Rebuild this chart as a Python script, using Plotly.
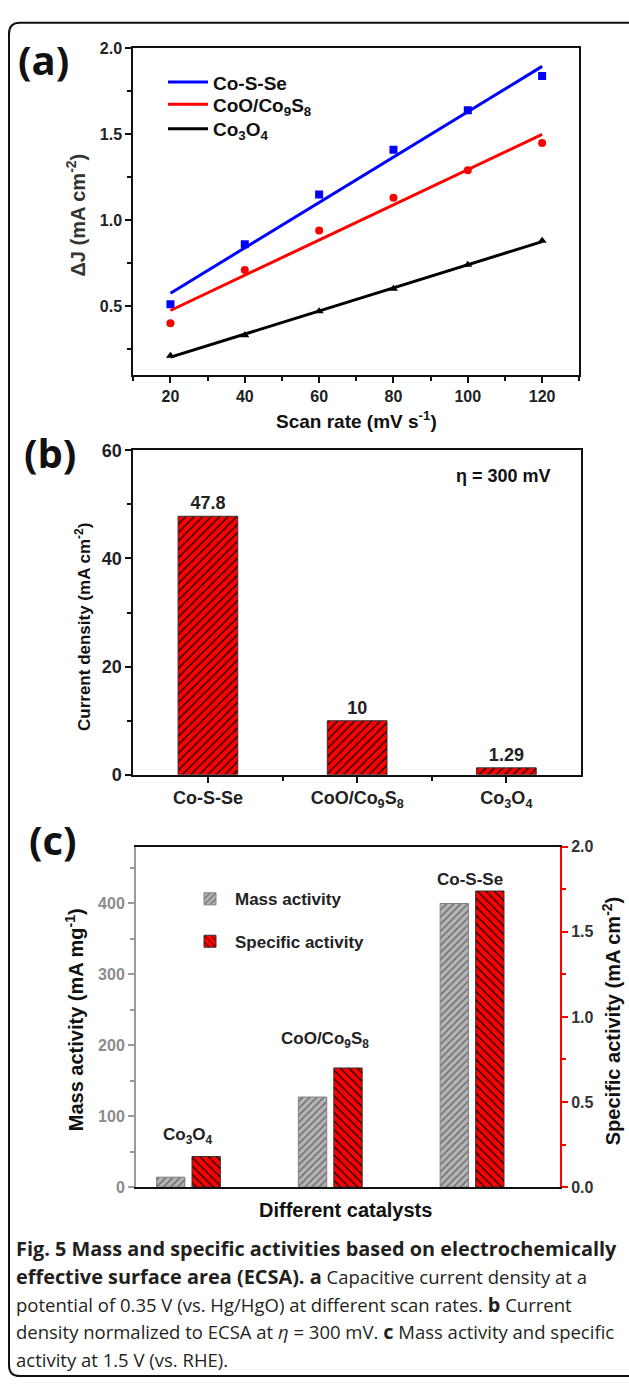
import numpy as np
import plotly.graph_objects as go

W, H = 629, 1389

# ---------------- data ----------------
# Panel (a): capacitive current density vs scan rate
scan_rate = [20, 40, 60, 80, 100, 120]
dj_cosse = [0.51, 0.86, 1.15, 1.41, 1.64, 1.84]
dj_coo_co9s8 = [0.40, 0.71, 0.94, 1.13, 1.29, 1.45]
dj_co3o4 = [0.21, 0.33, 0.47, 0.60, 0.74, 0.88]
names_a = ["Co-S-Se", "CoO/Co<sub>9</sub>S<sub>8</sub>", "Co<sub>3</sub>O<sub>4</sub>"]

# Panel (b): current density normalized to ECSA at 300 mV
cats_b = ["Co-S-Se", "CoO/Co<sub>9</sub>S<sub>8</sub>", "Co<sub>3</sub>O<sub>4</sub>"]
current_b = [47.8, 10, 1.29]

# Panel (c): mass and specific activity
cats_c = ["Co<sub>3</sub>O<sub>4</sub>", "CoO/Co<sub>9</sub>S<sub>8</sub>", "Co-S-Se"]
mass_activity = [14, 127, 400]
specific_activity = [0.18, 0.70, 1.74]

BS = '<span style="font-size:19.9px"><b>'
BE = '</b></span>'
caption_lines = [
    f"{BS}Fig. 5 Mass and specific activities based on electrochemically{BE}",
    f"{BS}effective surface area (ECSA). a{BE} Capacitive current density at a",
    f"potential of 0.35 V (vs. Hg/HgO) at different scan rates. {BS}b{BE} Current",
    f"density normalized to ECSA at <i>η</i> = 300 mV. {BS}c{BE} Mass activity and specific",
    "activity at 1.5 V (vs. RHE).",
]


def px(x):
    return x / W


def py(y):
    return 1 - y / H


FONT = "Liberation Sans"
CAP_FONT = "Open Sans"


def bfont(size, color="#111"):
    return dict(family=FONT, size=size, color=color, weight="bold")


fig = go.Figure()

# ---------------- panel (a) ----------------
colors_a = ["#0000ff", "#ff0000", "#000000"]
symbols_a = ["square", "circle", "triangle-up"]
legends_a = ["legend", "legend2", "legend3"]
for i, vals in enumerate([dj_cosse, dj_coo_co9s8, dj_co3o4]):
    k, b = np.polyfit(scan_rate, vals, 1)
    xs = [scan_rate[0], scan_rate[-1]]
    fig.add_trace(go.Scatter(
        x=xs, y=[k * x + b for x in xs], mode="lines",
        line=dict(color=colors_a[i], width=3), name=names_a[i],
        legend=legends_a[i], xaxis="x", yaxis="y"))
    fig.add_trace(go.Scatter(
        x=scan_rate, y=vals, mode="markers",
        marker=dict(symbol=symbols_a[i], size=8, color=colors_a[i]),
        showlegend=False, xaxis="x", yaxis="y"))

# ---------------- panel (b) ----------------
fig.add_trace(go.Bar(
    x=list(range(len(cats_b))), y=current_b, width=0.4,
    marker=dict(color="#ff0000", line=dict(color="#333", width=1),
                pattern=dict(shape="/", fgcolor="#000", bgcolor="#ff0000",
                             size=6, solidity=0.2, fillmode="replace")),
    text=[f"{v:g}" for v in current_b], textposition="outside",
    textfont=bfont(18, "#222"), cliponaxis=False, showlegend=False,
    xaxis="x2", yaxis="y2"))

# ---------------- panel (c) ----------------
xc = list(range(len(cats_c)))
fig.add_trace(go.Bar(
    x=xc, y=mass_activity, width=0.2, offset=-0.225, name="Mass activity",
    marker=dict(color="#b4b4b4", line=dict(color="#808080", width=1),
                pattern=dict(shape="/", fgcolor="#6e6e6e", bgcolor="#b4b4b4",
                             size=5, solidity=0.3, fillmode="replace")),
    legend="legend4", xaxis="x3", yaxis="y3"))
fig.add_trace(go.Bar(
    x=xc, y=specific_activity, width=0.2, offset=0.025, name="Specific activity",
    marker=dict(color="#ff0000", line=dict(color="#333", width=1),
                pattern=dict(shape="\\", fgcolor="#000", bgcolor="#ff0000",
                             size=6, solidity=0.2, fillmode="replace")),
    legend="legend5", xaxis="x3", yaxis="y4"))

common_axis = dict(showgrid=False, zeroline=False, showline=True, linewidth=2,
                   linecolor="#111", ticks="outside", tickwidth=2, ticklen=6,
                   tickcolor="#111")

legend_common = dict(bgcolor="rgba(0,0,0,0)", font=bfont(19, "#111"),
                     xanchor="left", yanchor="middle", itemwidth=40,
                     tracegroupgap=0)

fig.update_layout(
    width=W, height=H, margin=dict(l=0, r=0, t=0, b=0),
    paper_bgcolor="white", plot_bgcolor="white", barmode="overlay",
    # panel a
    xaxis=dict(domain=[px(133.3), px(579.3)], range=[10, 130], anchor="y",
               dtick=20, tick0=0, mirror=True, tickfont=bfont(16, "#222"),
               minor=dict(dtick=10, tick0=0, ticks="outside", ticklen=4,
                          tickwidth=1.5, tickcolor="#111"),
               **common_axis),
    yaxis=dict(domain=[py(370), py(39)], range=[0.1, 2.0], anchor="x",
               dtick=0.5, tick0=0, tickformat=".1f", mirror=True,
               tickfont=bfont(16, "#222"),
               minor=dict(dtick=0.25, tick0=0, ticks="outside", ticklen=4,
                          tickwidth=1.5, tickcolor="#111"),
               **common_axis),
    # panel b
    xaxis2=dict(domain=[px(133.3), px(581)], range=[-0.5, 2.5], anchor="y2",
                tickvals=list(range(len(cats_b))), ticktext=cats_b, mirror=True,
                tickfont=bfont(18, "#222"),
                minor=dict(tickvals=[0.5, 1.5], ticks="outside", ticklen=4,
                           tickwidth=1.5, tickcolor="#111"),
                **common_axis),
    yaxis2=dict(domain=[py(776), py(446.7)], range=[0, 60], anchor="x2",
                dtick=20, tick0=0, mirror=True, tickfont=bfont(18, "#222"),
                minor=dict(dtick=10, tick0=0, ticks="outside", ticklen=4,
                           tickwidth=1.5, tickcolor="#111"),
                **common_axis),
    # panel c
    xaxis3=dict(domain=[px(136), px(560)], range=[-0.37, 2.62], anchor="y3",
                showticklabels=False, ticks="", showgrid=False, zeroline=False,
                showline=True, linewidth=2, linecolor="#111", mirror=True),
    yaxis3=dict(domain=[py(1194.3), py(849)], range=[0, 480], anchor="x3",
                dtick=100, tick0=0, showgrid=False, zeroline=False,
                showline=True, linewidth=2, linecolor="#9a9a9a",
                ticks="outside", ticklen=6, tickwidth=2, tickcolor="#9a9a9a",
                tickfont=bfont(16, "#8c8c8c"),
                minor=dict(dtick=50, tick0=0, ticks="outside", ticklen=4,
                           tickwidth=1.5, tickcolor="#9a9a9a")),
    yaxis4=dict(range=[0, 2.0], overlaying="y3", side="right", anchor="x3",
                dtick=0.5, tick0=0, tickformat=".1f", showgrid=False,
                zeroline=False, showline=True, linewidth=2, linecolor="#ff0000",
                ticks="outside", ticklen=6, tickwidth=2, tickcolor="#ff0000",
                tickfont=bfont(16, "#333"),
                minor=dict(dtick=0.25, tick0=0, ticks="outside", ticklen=4,
                           tickwidth=1.5, tickcolor="#ff0000")),
    legend=dict(x=px(163), y=py(73.3), **legend_common),
    legend2=dict(x=px(163), y=py(95.7), **legend_common),
    legend3=dict(x=px(163), y=py(120.7), **legend_common),
    legend4=dict(x=px(185), y=py(902.3), **{**legend_common, "font": bfont(17, "#222")}),
    legend5=dict(x=px(185), y=py(945.3), **{**legend_common, "font": bfont(17, "#222")}),
)

ann = []


def add_text(text, x, y, size, rot=0, weight="bold", color="#111",
             family=FONT, xanchor="center", yanchor="middle"):
    ann.append(dict(text=text, x=px(x), y=py(y), xref="paper", yref="paper",
                    showarrow=False, textangle=rot, xanchor=xanchor,
                    yanchor=yanchor,
                    font=dict(family=family, size=size, color=color,
                              weight=weight)))


# panel letters
add_text("(a)", 16, 50, 40, family="Open Sans", xanchor="left", color="#111")
add_text("(b)", 22, 449, 40, family="Open Sans", xanchor="left", color="#111")
add_text("(c)", 27, 842, 40, family="Open Sans", xanchor="left", color="#111")

# axis titles
add_text("ΔJ (mA cm<sup>-2</sup>)", 75.5, 208, 20, rot=-90, color="#333")
add_text("Scan rate (mV s<sup>-1</sup>)", 356, 416, 19)
add_text("Current density (mA cm<sup>-2</sup>)", 83, 626, 17, rot=-90)
add_text("η = 300 mV", 503, 473, 18)
add_text("Mass activity (mA mg<sup>-1</sup>)", 74, 1025, 20, rot=-90)
add_text("Specific activity (mA cm<sup>-2</sup>)", 611, 1026, 20, rot=-90)
add_text("Different catalysts", 345, 1218, 20)

# panel c group labels
label_shift = [20, 28, 12]
label_dx = [0, -5, -2]
for i, lab in enumerate(cats_c):
    ann.append(dict(text=lab, x=xc[i], y=specific_activity[i], xref="x3",
                    yref="y4", showarrow=False, xanchor="center",
                    yanchor="middle", yshift=label_shift[i], xshift=label_dx[i],
                    font=bfont(17, "#222")))

# caption
cap_y = [1257, 1285, 1313, 1341, 1369]
for line, yy in zip(caption_lines, cap_y):
    add_text(line, 14, yy, 18.5, weight="normal", color="#231f20",
             family=CAP_FONT, xanchor="left")

fig.update_layout(annotations=ann)

# outer rounded frame
L, T, R, B, r = 9, 13, 630, 1386, 11
path = (f"M {px(R)},{py(T)} L {px(L + r)},{py(T)} "
        f"Q {px(L)},{py(T)} {px(L)},{py(T + r)} "
        f"L {px(L)},{py(B - r)} Q {px(L)},{py(B)} {px(L + r)},{py(B)} "
        f"L {px(R)},{py(B)}")
fig.add_shape(type="path", path=path, xref="paper", yref="paper",
              line=dict(color="#111", width=2))

fig.write_html("out.html")
